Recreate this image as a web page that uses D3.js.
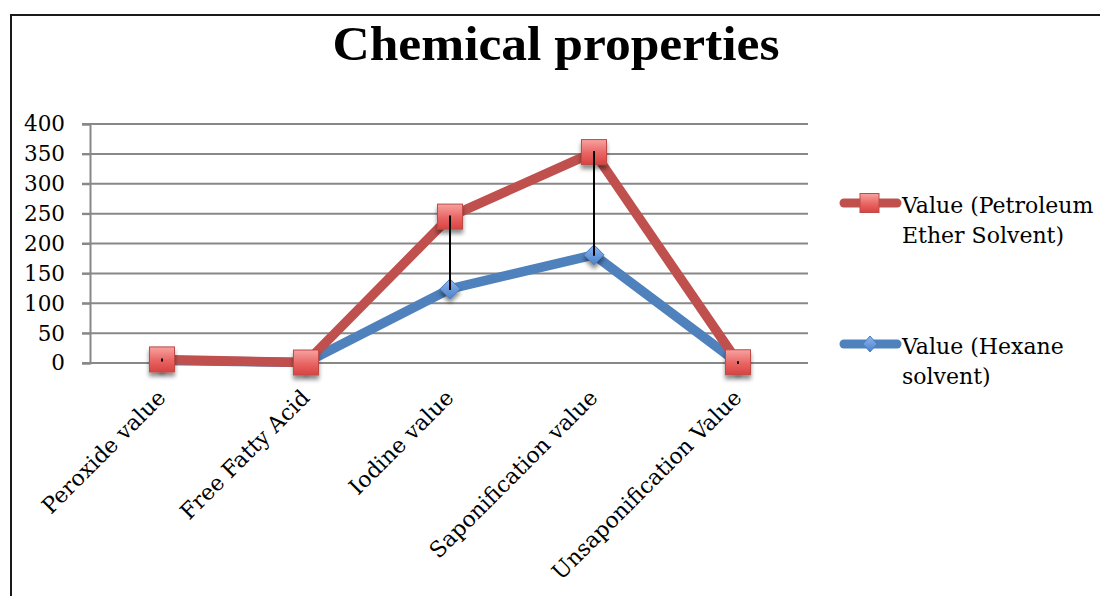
<!DOCTYPE html>
<html>
<head>
<meta charset="utf-8">
<script src="https://cdn.jsdelivr.net/npm/d3@7"></script>
<style>
  html, body { margin: 0; padding: 0; background: #fff; }
  svg { display: block; }
</style>
</head>
<body>
<svg id="chart" width="1100" height="596"></svg>
<script>
// Chemical properties of the oil for the two extraction solvents
const categories = ["Peroxide value", "Free Fatty Acid", "Iodine value", "Saponification value", "Unsaponification Value"];
const petroleumValues = [6, 0.8, 245, 353, 1.2];
const hexaneValues = [4, 0.8, 124, 181, 0.2];
const yTicks = [0, 50, 100, 150, 200, 250, 300, 350, 400];
const seriesNames = ["Value (Petroleum|Ether Solvent)", "Value (Hexane|solvent)"];

const svg = d3.select("#chart");
const W = 1100, H = 596;
const serif = "'DejaVu Serif', 'Liberation Serif', serif";

const defs = svg.append("defs");
const shadow = defs.append("filter").attr("id", "shadow")
  .attr("x", "-50%").attr("y", "-50%").attr("width", "200%").attr("height", "200%");
shadow.append("feDropShadow").attr("dx", 0).attr("dy", 4).attr("stdDeviation", 2.2)
  .attr("flood-color", "#000").attr("flood-opacity", 0.45);

const redGrad = defs.append("linearGradient").attr("id", "redFill")
  .attr("x1", 0).attr("y1", 0).attr("x2", 0).attr("y2", 1);
redGrad.append("stop").attr("offset", "0%").attr("stop-color", "#F7A3A1");
redGrad.append("stop").attr("offset", "55%").attr("stop-color", "#E86462");
redGrad.append("stop").attr("offset", "100%").attr("stop-color", "#D84340");

const blueGrad = defs.append("linearGradient").attr("id", "blueFill")
  .attr("x1", 0).attr("y1", 0).attr("x2", 0).attr("y2", 1);
blueGrad.append("stop").attr("offset", "0%").attr("stop-color", "#8DB6EE");
blueGrad.append("stop").attr("offset", "100%").attr("stop-color", "#4C82CC");

// Outer frame
svg.append("path")
  .attr("d", `M11,${H} L11,15 L${W},15`)
  .attr("fill", "none").attr("stroke", "#1a1a1a").attr("stroke-width", 2);

// Title
svg.append("text")
  .attr("x", 556).attr("y", 60)
  .attr("text-anchor", "middle")
  .attr("font-family", "'Liberation Serif', serif")
  .attr("font-weight", "bold").attr("font-size", 48)
  .attr("textLength", 447).attr("lengthAdjust", "spacingAndGlyphs")
  .attr("fill", "#000")
  .text("Chemical properties");

// Scales
const x = d3.scaleBand().domain(categories).range([90, 810]);
const cx = d => x(d) + x.bandwidth() / 2;
const y = d3.scaleLinear().domain([0, 400]).range([363, 124]);

// Gridlines
svg.append("g").selectAll("line").data(yTicks).join("line")
  .attr("x1", 82).attr("x2", 808)
  .attr("y1", d => y(d)).attr("y2", d => y(d))
  .attr("stroke", "#888").attr("stroke-width", 2);

// Y axis
const yAxis = svg.append("g").attr("transform", "translate(90,0)")
  .call(d3.axisLeft(y).tickValues(yTicks).tickSize(8).tickPadding(17));
yAxis.select(".domain").attr("stroke", "#888").attr("stroke-width", 2);
yAxis.selectAll(".tick line").attr("stroke", "#888").attr("stroke-width", 2);
yAxis.selectAll(".tick text")
  .attr("font-family", serif).attr("font-size", 21.5).attr("fill", "#000");

// Category labels rotated -45°
const xAxis = svg.append("g");
xAxis.selectAll("text").data(categories).join("text")
  .attr("transform", d => `translate(${cx(d) + 5},399) rotate(-45)`)
  .attr("text-anchor", "end")
  .attr("font-family", serif).attr("font-size", 22).attr("fill", "#000")
  .text(d => d);

// Lines
const pts = vals => categories.map((c, i) => [cx(c), y(vals[i])]);
const line = d3.line().curve(d3.curveLinear);

svg.append("path").attr("d", line(pts(hexaneValues)))
  .attr("fill", "none").attr("stroke", "#4F81BD").attr("stroke-width", 9.5)
  .attr("stroke-linejoin", "round").attr("stroke-linecap", "round");

svg.append("g").selectAll("path").data(pts(hexaneValues)).join("path")
  .attr("d", d => `M${d[0]},${d[1] - 10} L${d[0] + 10},${d[1]} L${d[0]},${d[1] + 10} L${d[0] - 10},${d[1]} Z`)
  .attr("fill", "url(#blueFill)").attr("stroke", "#4A7EC0").attr("stroke-width", 1)
  .attr("filter", "url(#shadow)");

svg.append("path").attr("d", line(pts(petroleumValues)))
  .attr("fill", "none").attr("stroke", "#C0504D").attr("stroke-width", 9.5)
  .attr("stroke-linejoin", "round").attr("stroke-linecap", "round");

svg.append("g").selectAll("rect").data(pts(petroleumValues)).join("rect")
  .attr("x", d => d[0] - 12.5).attr("y", d => d[1] - 12.5)
  .attr("width", 25).attr("height", 25)
  .attr("fill", "url(#redFill)").attr("stroke", "#BE4A47").attr("stroke-width", 1)
  .attr("filter", "url(#shadow)");

// High-low lines between the two series
const hl = categories.map((c, i) => ({ c, hi: petroleumValues[i], lo: hexaneValues[i] }))
  .filter(d => d.hi !== d.lo);
svg.append("g").selectAll("line").data(hl).join("line")
  .attr("x1", d => cx(d.c)).attr("x2", d => cx(d.c))
  .attr("y1", d => y(d.hi)).attr("y2", d => y(d.lo))
  .attr("stroke", "#000").attr("stroke-width", 2).attr("stroke-linecap", "square");

// Legend
const legend = svg.append("g");
const legendRows = [
  { name: seriesNames[0], color: "#C0504D", y: 203, marker: "square" },
  { name: seriesNames[1], color: "#4F81BD", y: 344, marker: "diamond" }
];
legendRows.forEach(r => {
  legend.append("line").attr("x1", 844).attr("x2", 897).attr("y1", r.y).attr("y2", r.y)
    .attr("stroke", r.color).attr("stroke-width", 9).attr("stroke-linecap", "round");
  if (r.marker === "square") {
    legend.append("rect").attr("x", 860).attr("y", r.y - 9.5).attr("width", 19).attr("height", 19)
      .attr("fill", "url(#redFill)").attr("stroke", "#BE4A47").attr("stroke-width", 1);
  } else {
    legend.append("path")
      .attr("d", `M870,${r.y - 8} L877,${r.y} L870,${r.y + 8} L863,${r.y} Z`)
      .attr("fill", "url(#blueFill)").attr("stroke", "#4A7EC0").attr("stroke-width", 1);
  }
  const parts = r.name.split("|");
  const t = legend.append("text")
    .attr("font-family", serif).attr("font-size", 22).attr("fill", "#000");
  parts.forEach((p, i) => {
    t.append("tspan").attr("x", 902).attr("y", r.y + 10 + i * 30).text(p);
  });
});
</script>
</body>
</html>
